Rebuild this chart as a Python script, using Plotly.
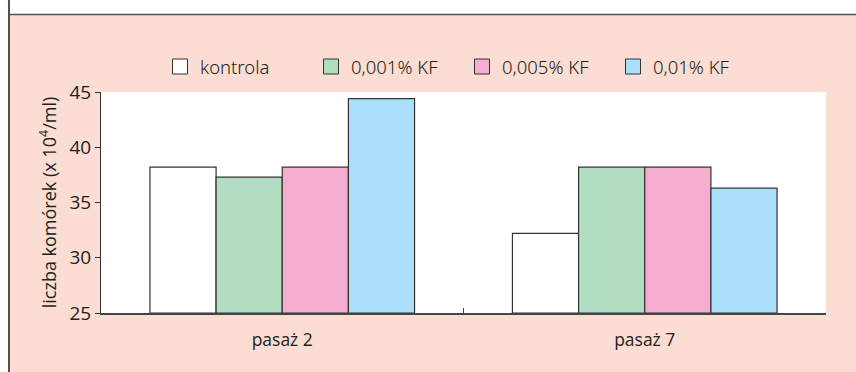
import plotly.graph_objects as go

# Cell counts per passage and KF concentration
categories = ["pasaż 2", "pasaż 7"]
series_names = ["kontrola", "0,001% KF", "0,005% KF", "0,01% KF"]
kontrola = [38.2, 32.2]
kf_0001 = [37.3, 38.2]
kf_0005 = [38.2, 38.2]
kf_001 = [44.4, 36.3]
y_ticks = [25, 30, 35, 40, 45]

series_values = [kontrola, kf_0001, kf_0005, kf_001]
colors = ["#FFFFFF", "#B3DDC3", "#F5ADD0", "#ABDFFA"]
outline = "#333333"
bg_pink = "#FBDDD3"

W, H = 856, 372
L, R, T, B = 101, 30, 92, 59
plot_w = W - L - R
plot_h = H - T - B


def px_x(px):
    return (px - L) / plot_w


def px_y(py):
    return (H - B - py) / plot_h


fig = go.Figure()

for name, vals, col in zip(series_names, series_values, colors):
    fig.add_trace(go.Bar(
        x=categories, y=[v - 25 for v in vals], base=25, name=name,
        marker=dict(color=col, line=dict(color=outline, width=1.2)),
        showlegend=False, legendgroup=name,
        hovertemplate="%{x}: %{customdata}<extra>" + name + "</extra>",
        customdata=vals,
    ))
    # square legend swatch
    fig.add_trace(go.Scatter(
        x=[None], y=[None], mode="markers", name=name, legendgroup=name,
        marker=dict(symbol="square", size=15, color=col,
                    line=dict(color=outline, width=1)),
    ))

shapes = [
    # white frame strips at the top and left
    dict(type="rect", xref="paper", yref="paper", x0=px_x(0), x1=px_x(W),
         y0=px_y(14.5), y1=px_y(0), fillcolor="white", line_width=0, layer="below"),
    dict(type="rect", xref="paper", yref="paper", x0=px_x(0), x1=px_x(8),
         y0=px_y(H), y1=px_y(0), fillcolor="white", line_width=0, layer="below"),
    dict(type="line", xref="paper", yref="paper", x0=px_x(8), x1=px_x(W),
         y0=px_y(14.5), y1=px_y(14.5), line=dict(color="#555555", width=1.5)),
    dict(type="line", xref="paper", yref="paper", x0=px_x(9), x1=px_x(9),
         y0=px_y(H), y1=px_y(0), line=dict(color="#5B4B48", width=2)),
]

font_main = "Open Sans, Noto Sans, sans-serif"
font_narrow = "Liberation Sans Narrow, Noto Sans, sans-serif"

fig.update_layout(
    width=W, height=H,
    margin=dict(l=L, r=R, t=T, b=B, autoexpand=False),
    paper_bgcolor=bg_pink, plot_bgcolor="white",
    barmode="group", bargap=0.27, bargroupgap=0,
    shapes=shapes,
    font=dict(family=font_main, color="#231F20"),
    legend=dict(
        orientation="h", x=px_x(160), xanchor="left", y=px_y(67), yanchor="middle",
        bgcolor="rgba(0,0,0,0)",
        font=dict(family=font_narrow, size=18.5, weight=300, color="#231F20"),
        entrywidth=106, entrywidthmode="pixels", itemsizing="trace",
        itemclick=False, itemdoubleclick=False,
    ),
    xaxis=dict(
        type="category", showline=True, linecolor="#444444", linewidth=1.5,
        ticks="inside", tickson="boundaries", ticklen=5, tickcolor="#444444",
        tickfont=dict(size=17.5), ticklabelstandoff=10,
        showgrid=False, zeroline=False, fixedrange=True,
    ),
    yaxis=dict(
        range=[25, 45], tickvals=y_ticks, showline=True, linecolor="#333333",
        linewidth=1, ticks="outside", ticklen=5, tickcolor="#333333",
        tickfont=dict(size=19), showgrid=False, zeroline=False, fixedrange=True,
        title=dict(text="liczba komórek (x 10<sup>4</sup>/ml)", font=dict(size=18),
                   standoff=8),
    ),
)

fig.write_html("out.html")
